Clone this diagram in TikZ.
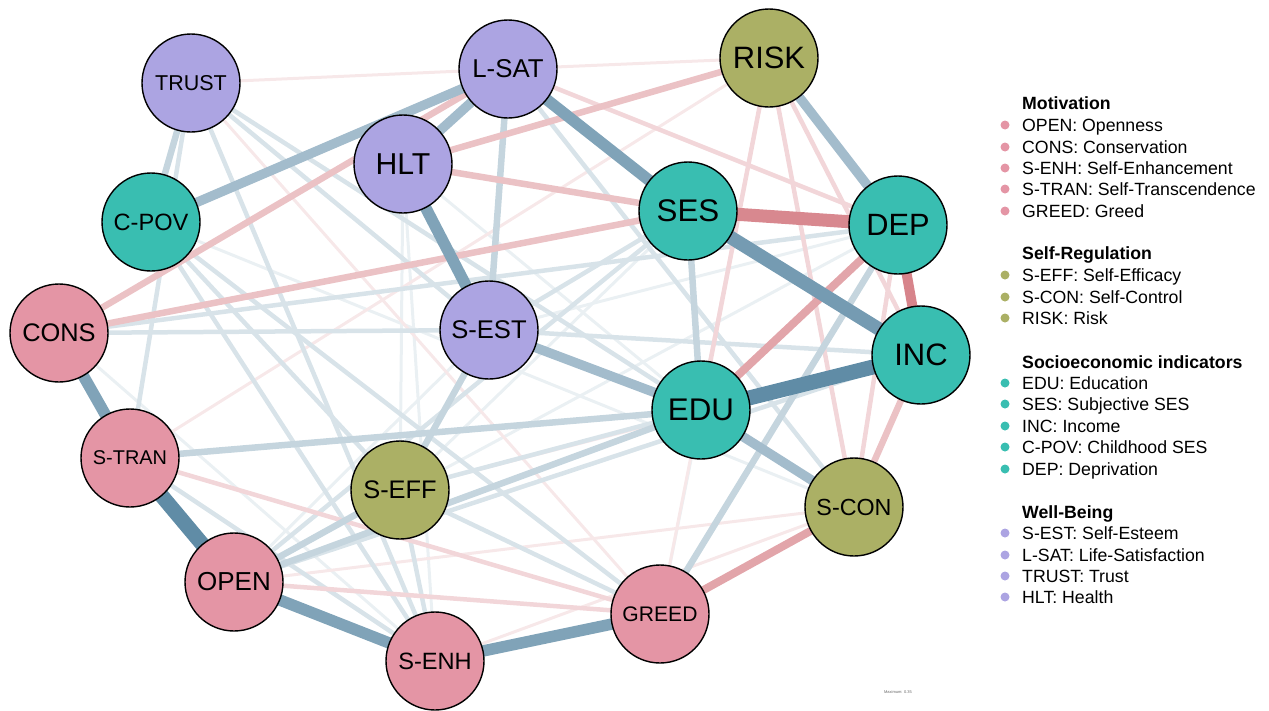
\documentclass[tikz,border=0pt]{standalone}
\usepackage{fontspec}
\setmainfont{Liberation Sans}
\usepackage{tikz}
\usetikzlibrary{backgrounds}
\definecolor{motiv}{HTML}{E495A5}
\definecolor{selfreg}{HTML}{ABB065}
\definecolor{socio}{HTML}{39BEB1}
\definecolor{wellb}{HTML}{ACA4E2}
\definecolor{posc}{HTML}{4E7F9C}
\definecolor{negc}{HTML}{D06E76}
\newcommand{\fsz}[1]{\fontsize{#1}{#1}\selectfont}
\tikzset{
  var/.style={circle, draw=black, line width=1.4pt, minimum size=98pt, inner sep=0pt, text=black},
  p1/.style={draw=posc!12!white, line width=3pt},
  p2/.style={draw=posc!22!white, line width=4.5pt},
  p3/.style={draw=posc!33!white, line width=6.5pt},
  p4/.style={draw=posc!52!white, line width=9.5pt},
  p5/.style={draw=posc!72!white, line width=11.5pt},
  p6/.style={draw=posc!78!white, line width=13.5pt},
  p7/.style={draw=posc!90!white, line width=15pt},
  n1/.style={draw=negc!16!white, line width=3pt},
  n2/.style={draw=negc!28!white, line width=4.5pt},
  n3/.style={draw=negc!42!white, line width=6.5pt},
  n4/.style={draw=negc!62!white, line width=8pt},
  n5/.style={draw=negc!85!white, line width=10pt},
  n6/.style={draw=negc!82!white, line width=13pt},
  dot/.style={circle, inner sep=0pt, minimum size=9pt},
  head/.style={anchor=base west, inner sep=0pt, font=\bfseries\fsz{17.7}},
  item/.style={anchor=base west, inner sep=0pt, font=\fsz{17.7}},
}

\begin{document}
\begin{tikzpicture}[x=1pt,y=-1pt]
  \useasboundingbox (0,0) rectangle (1269,710);

  % variables
  \node[var, fill=wellb, font=\fsz{21.5}] (TRUST) at (191,83) {TRUST};
  \node[var, fill=wellb, font=\fsz{25.8}] (LSAT) at (508,69) {L-SAT};
  \node[var, fill=selfreg, font=\fsz{30.9}] (RISK) at (769,58) {RISK};
  \node[var, fill=wellb, font=\fsz{30.2}] (HLT) at (403,164) {HLT};
  \node[var, fill=socio, font=\fsz{23.6}] (CPOV) at (151,222) {C-POV};
  \node[var, fill=socio, font=\fsz{31.3}] (SES) at (688,211) {SES};
  \node[var, fill=socio, font=\fsz{30.8}] (DEP) at (898,225) {DEP};
  \node[var, fill=motiv, font=\fsz{25.4}] (CONS) at (59,333) {CONS};
  \node[var, fill=wellb, font=\fsz{25.6}] (SEST) at (489,330) {S-EST};
  \node[var, fill=socio, font=\fsz{31}] (INC) at (921,355) {INC};
  \node[var, fill=socio, font=\fsz{31.3}] (EDU) at (701,410) {EDU};
  \node[var, fill=motiv, font=\fsz{19.9}] (STRAN) at (130,458) {S-TRAN};
  \node[var, fill=selfreg, font=\fsz{25.4}] (SEFF) at (400,490) {S-EFF};
  \node[var, fill=selfreg, font=\fsz{23.3}] (SCON) at (854,507) {S-CON};
  \node[var, fill=motiv, font=\fsz{26}] (OPEN) at (234,582) {OPEN};
  \node[var, fill=motiv, font=\fsz{21.1}] (GREED) at (660,614) {GREED};
  \node[var, fill=motiv, font=\fsz{23.6}] (SENH) at (435,661) {S-ENH};

  % edges, weakest first
  \begin{scope}[on background layer]
    \foreach \a/\b/\s in {
      GREED/EDU/p1, HLT/SEFF/p1, HLT/SENH/p1, HLT/EDU/p1, DEP/OPEN/p1, DEP/SEST/p1,
      CONS/SENH/p1, CPOV/SCON/p1, SES/SEFF/p1, OPEN/SEST/p1,
      STRAN/RISK/n1, TRUST/LSAT/n1, LSAT/RISK/n1, OPEN/SCON/n1, SENH/SCON/n1,
      SEFF/INC/n1, RISK/GREED/n1, TRUST/GREED/n1,
      SEFF/EDU/p2, OPEN/INC/p2, TRUST/STRAN/p2, SEFF/SENH/p2, CONS/SEST/p2, SEST/INC/p2,
      CONS/DEP/p2, STRAN/SENH/p2, SEFF/GREED/p2, CPOV/GREED/p2, CPOV/SENH/p2, CPOV/SEFF/p2,
      TRUST/EDU/p2, TRUST/SEST/p2, TRUST/SENH/p2, SES/SEST/p2, SES/OPEN/p2, LSAT/SCON/p2,
      LSAT/DEP/n2, STRAN/GREED/n2, OPEN/GREED/n2, DEP/SCON/n2, RISK/SCON/n2, RISK/INC/n2,
      RISK/EDU/n2,
      LSAT/SEST/p3, SES/EDU/p3, SEST/SEFF/p3, SEFF/OPEN/p3, STRAN/EDU/p3, TRUST/CPOV/p3,
      GREED/DEP/p3, OPEN/EDU/p3,
      HLT/SES/n3, CONS/SES/n3, CONS/LSAT/n3, HLT/RISK/n3, INC/SCON/n3,
      SEST/EDU/p4, EDU/SCON/p4, RISK/DEP/p4, LSAT/CPOV/p4, LSAT/HLT/p4,
      EDU/DEP/n4, SCON/GREED/n4,
      CONS/STRAN/p5, LSAT/SES/p5, OPEN/SENH/p5, SENH/GREED/p5, HLT/SEST/p5,
      DEP/INC/n5, SES/INC/p6, SES/DEP/n6,
      STRAN/OPEN/p7, EDU/INC/p7}
      \draw[\s] (\a.center) -- (\b.center);
  \end{scope}

  % legend
  \node[head] (hmot) at (1022,109.3) {Motivation};
  \foreach \t/\y in {OPEN: Openness/125, CONS: Conservation/147, S-ENH: Self-Enhancement/168,
      S-TRAN: Self-Transcendence/189, GREED: Greed/211} {
    \node[dot, fill=motiv] (dm\y) at (1005,\y) {};
    \node[item] (lm\y) at (1022,\y+6.3) {\t};
  }
  \node[head] (hreg) at (1022,259.3) {Self-Regulation};
  \foreach \t/\y in {S-EFF: Self-Efficacy/275, S-CON: Self-Control/297, RISK: Risk/318} {
    \node[dot, fill=selfreg] (dr\y) at (1005,\y) {};
    \node[item] (lr\y) at (1022,\y+6.3) {\t};
  }
  \node[head] (hsoc) at (1022,368.3) {Socioeconomic indicators};
  \foreach \t/\y in {EDU: Education/383, SES: Subjective SES/404, INC: Income/426,
      C-POV: Childhood SES/447, DEP: Deprivation/469} {
    \node[dot, fill=socio] (ds\y) at (1005,\y) {};
    \node[item] (ls\y) at (1022,\y+6.3) {\t};
  }
  \node[head] (hwel) at (1022,518.3) {Well-Being};
  \foreach \t/\y in {S-EST: Self-Esteem/533, L-SAT: Life-Satisfaction/555, TRUST: Trust/576,
      HLT: Health/597} {
    \node[dot, fill=wellb] (dw\y) at (1005,\y) {};
    \node[item] (lw\y) at (1022,\y+6.3) {\t};
  }

  \node[font=\fsz{4}, text=black!60] (maxlab) at (898,692) {Maximum: 0.35};
\end{tikzpicture}
\end{document}
